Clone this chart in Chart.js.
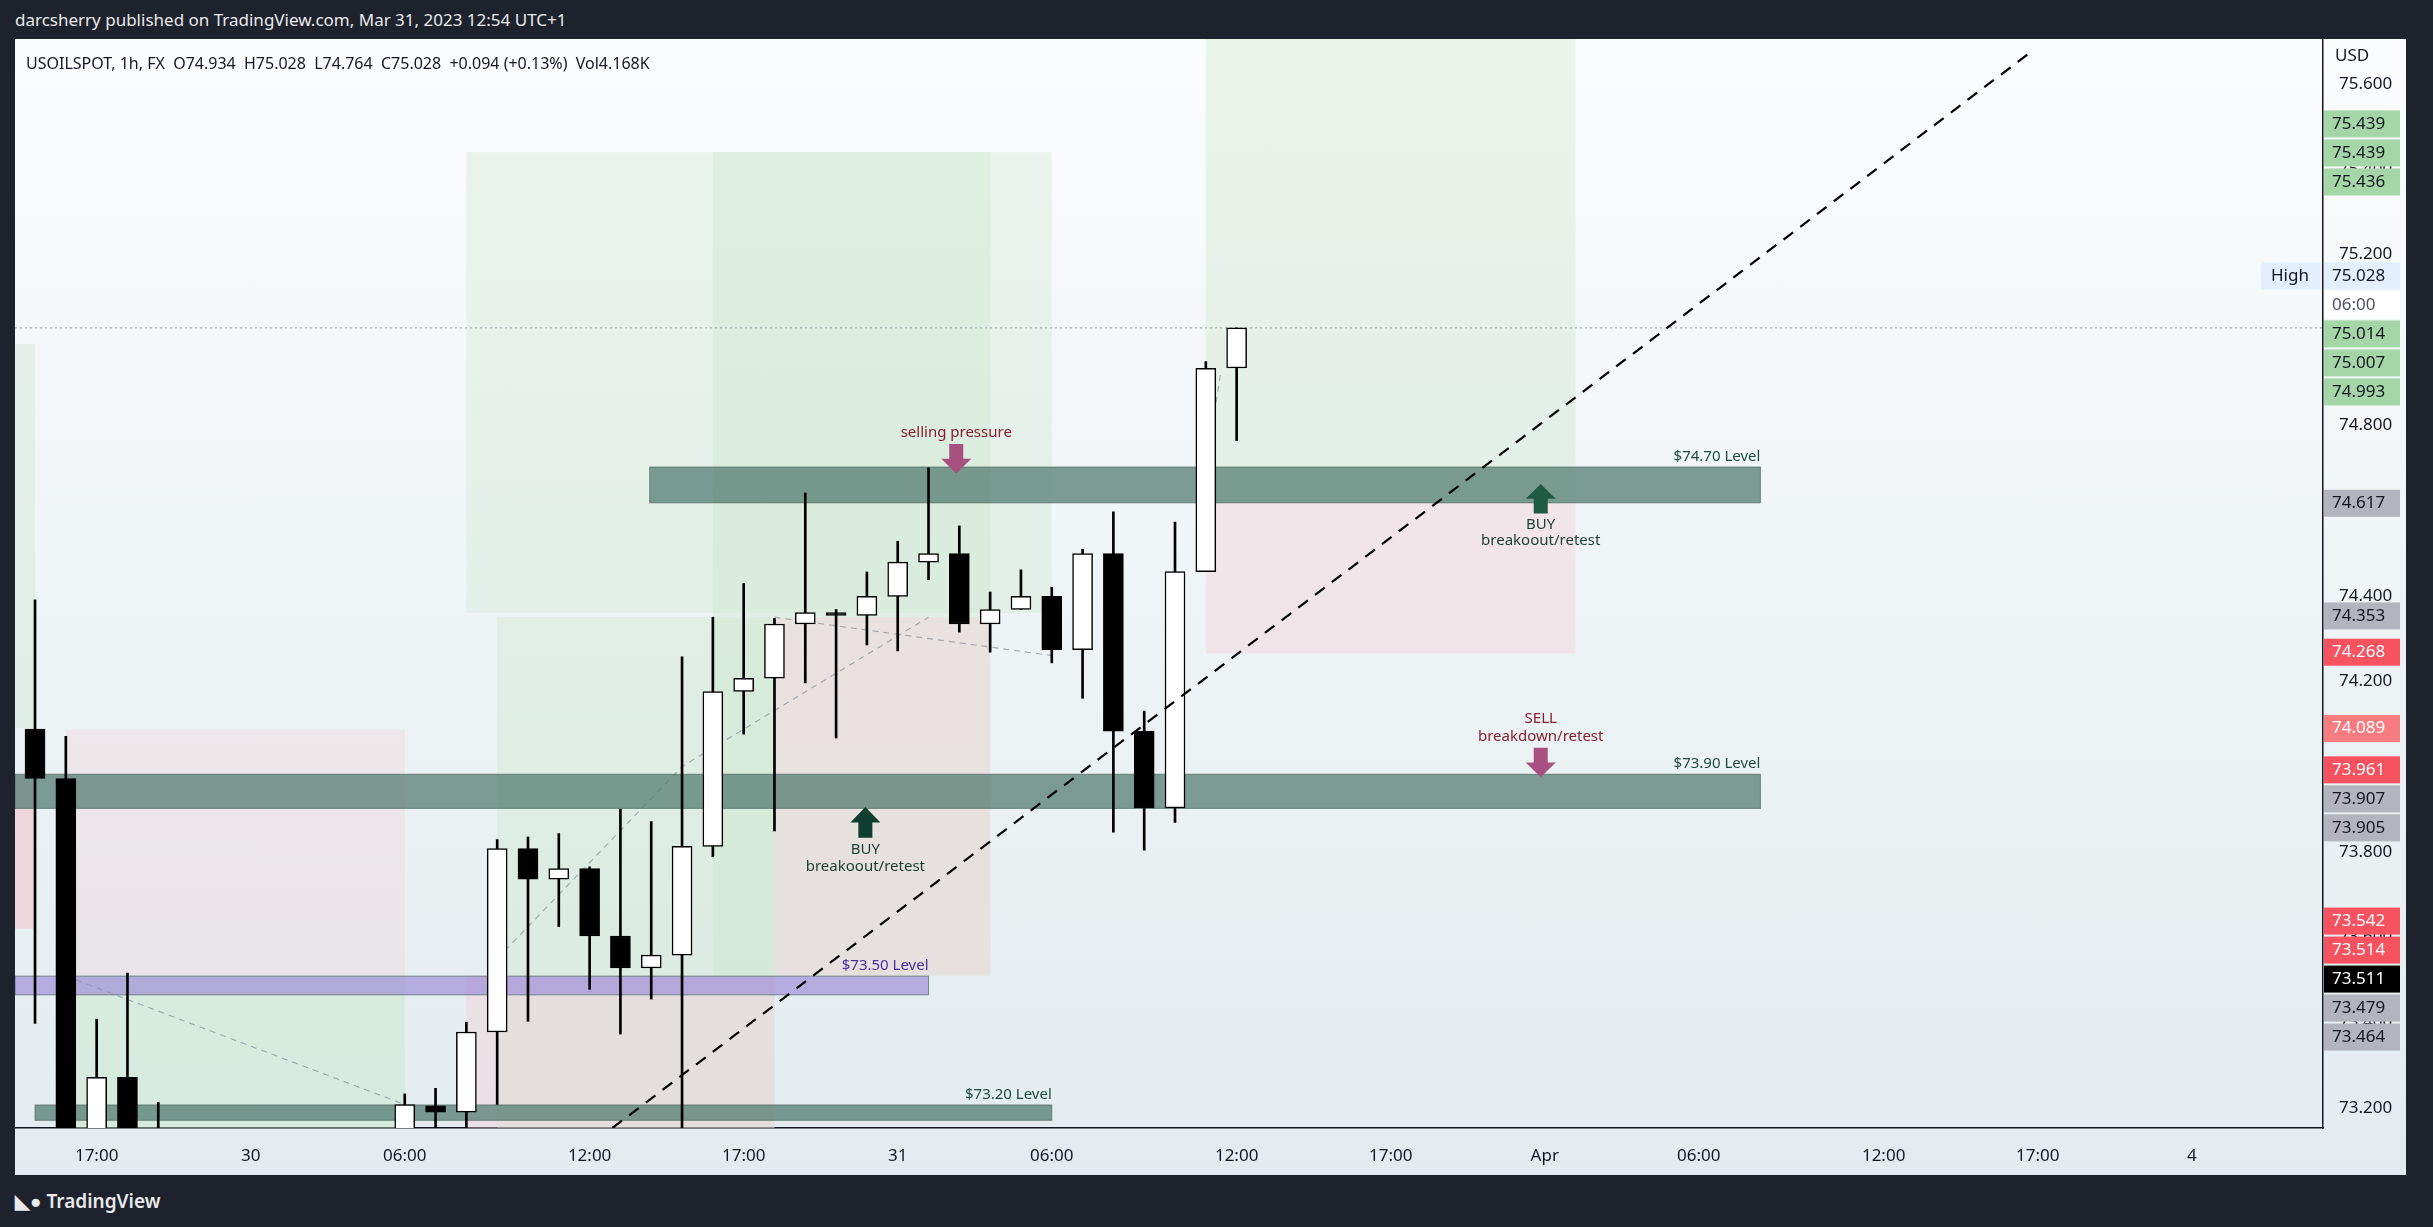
<!DOCTYPE html>
<html>
<head>
<meta charset="utf-8">
<script src="https://cdn.jsdelivr.net/npm/chart.js@4"></script>
<style>
  html, body { margin: 0; padding: 0; background: #1e222d; width: 2433px; height: 1227px; overflow: hidden; font-family: "Noto Sans", sans-serif; }
  #top { position: absolute; left: 15px; top: 8px; color: #e8e9ec; font-size: 17px; }
  #bottom { position: absolute; left: 15px; top: 1188px; color: #e8e9ec; font-size: 19px; font-weight: 600; }
  #wrap { position: absolute; left: 15px; top: 39px; width: 2391px; height: 1136px;
          background: linear-gradient(#fbfcfd, #e2ecef); }
</style>
</head>
<body>
<div id="top">darcsherry published on TradingView.com, Mar 31, 2023 12:54 UTC+1</div>
<div id="bottom">&#x25E3;&#x25CF; TradingView</div>
<div id="wrap"><canvas id="chart"></canvas></div>
<script>
// hourly candles, index 0 = 16:00 Mar 29
const barIndex = [-1,0,1,2,3,4,5,6,7,8,9,10,11,12,13,14,15,16,17,18,19,20,21,22,23,24,25,26,27,28,29,30,31,32,33,34,35,36,37,38,39];
const opens  = [74.192,74.088,73.972,73.05,73.272,73.05,72.98,72.95,72.90,72.97,73.03,73.00,73.06,73.12,73.205,73.190,73.378,73.808,73.736,73.761,73.603,73.528,73.558,73.813,74.176,74.207,74.334,74.361,74.354,74.399,74.479,74.499,74.334,74.368,74.399,74.274,74.499,74.083,73.903,74.457,74.934];
const highs  = [74.25,74.391,74.071,73.408,73.516,73.213,73.05,73.02,73.00,73.08,73.10,73.09,73.14,73.233,73.246,73.401,73.829,73.835,73.843,73.765,73.900,73.871,74.257,74.350,74.429,74.347,74.641,74.368,74.456,74.528,74.700,74.564,74.409,74.461,74.420,74.509,74.597,74.130,74.573,74.949,75.028];
const lows   = [74.0,73.398,72.95,73.00,72.98,72.90,72.88,72.85,72.82,72.90,72.96,72.94,73.00,73.10,73.13,73.14,73.208,73.403,73.625,73.478,73.373,73.455,73.10,73.789,74.076,73.849,74.196,74.067,74.285,74.271,74.438,74.315,74.268,74.368,74.243,74.160,73.846,73.804,73.869,74.457,74.764];
const closes = [74.090,73.972,73.00,73.272,73.05,72.98,72.95,72.90,72.97,73.03,73.00,73.06,73.12,73.208,73.190,73.378,73.808,73.736,73.761,73.603,73.528,73.558,73.813,74.176,74.207,74.334,74.361,74.354,74.399,74.479,74.499,74.334,74.368,74.399,74.274,74.499,74.083,73.903,74.457,74.933,75.028];

const tickIndex = [2,7,12,18,23,28,33,39,44,49,54,60,65,70];
const tickText  = ["17:00","30","06:00","12:00","17:00","31","06:00","12:00","17:00","Apr","06:00","12:00","17:00","4"];

// price tags on the right scale: value, label, background, text colour
const tagValues = [75.439,75.439,75.436,75.028,75.0279,75.014,75.007,74.993,74.617,74.353,74.268,74.089,73.961,73.907,73.905,73.542,73.514,73.511,73.479,73.464];
const tagLabels = ["75.439","75.439","75.436","75.028","06:00","75.014","75.007","74.993","74.617","74.353","74.268","74.089","73.961","73.907","73.905","73.542","73.514","73.511","73.479","73.464"];
const tagBg = ["#a5d6a7","#a5d6a7","#a5d6a7","#e3effd","#ffffff","#a5d6a7","#a5d6a7","#a5d6a7","#b2b5be","#b2b5be","#f7525f","#f77c80","#f7525f","#b2b5be","#b2b5be","#f7525f","#f7525f","#000000","#b2b5be","#b2b5be"];
const tagFg = ["#131722","#131722","#131722","#131722","#50535e","#131722","#131722","#131722","#131722","#131722","#ffffff","#ffffff","#ffffff","#131722","#131722","#ffffff","#ffffff","#ffffff","#131722","#131722"];

// drawing tool boxes: [x0, x1, priceTop, priceBottom, colour]
const boxes = [
  [-0.65, 0, 74.99, 74.09, "rgba(200,230,201,0.35)"],
  [-0.65, 0, 73.98, 73.62, "rgba(242,190,200,0.5)"],
  [1, 12, 74.087, 73.509, "rgba(242,205,212,0.3)"],
  [1, 12, 73.509, 73.153, "rgba(200,230,201,0.45)"],
  [14, 33, 75.44, 74.36, "rgba(200,230,201,0.3)"],
  [22, 31, 75.44, 73.51, "rgba(200,230,201,0.35)"],
  [15, 24, 74.35, 73.153, "rgba(200,230,201,0.35)"],
  [24, 31, 74.35, 73.51, "rgba(242,205,212,0.4)"],
  [14, 24, 73.51, 73.153, "rgba(242,205,212,0.4)"],
  [38, 50, 75.705, 74.618, "rgba(200,230,201,0.35)"],
  [38, 50, 74.618, 74.265, "rgba(242,205,212,0.4)"]
];
const levels = [
  [19.95, 56, 74.702, 74.618, "rgba(84,124,114,0.75)", "$74.70 Level", "#1b4d3e"],
  [-0.65, 56, 73.982, 73.902, "rgba(84,124,114,0.75)", "$73.90 Level", "#1b4d3e"],
  [-0.65, 29, 73.509, 73.465, "rgba(149,128,214,0.6)", "$73.50 Level", "#4a2fa8"],
  [0, 33, 73.207, 73.171, "rgba(84,124,114,0.75)", "$73.20 Level", "#1b4d3e"]
];

const ctx = document.getElementById("chart");

const overlay = {
  id: "overlay",
  beforeDatasetsDraw(chart) {
    const c = chart.ctx, xs = chart.scales.x, ys = chart.scales.y, a = chart.chartArea;
    const X = v => xs.getPixelForValue(v), Y = v => ys.getPixelForValue(v);
    c.save();
    c.beginPath(); c.rect(a.left, a.top, a.right - a.left, a.bottom - a.top); c.clip();
    boxes.forEach(b => { c.fillStyle = b[4]; c.fillRect(X(b[0]), Y(b[2]), X(b[1]) - X(b[0]), Y(b[3]) - Y(b[2])); });
    // thin connecting paths
    c.strokeStyle = "rgba(120,130,140,0.6)"; c.lineWidth = 1.2; c.setLineDash([6, 5]);
    c.beginPath(); c.moveTo(X(1), Y(73.509)); c.lineTo(X(12), Y(73.208)); c.stroke();
    c.beginPath(); c.moveTo(X(15), Y(73.55)); c.lineTo(X(21), Y(74.0)); c.lineTo(X(29), Y(74.35)); c.stroke();
    c.beginPath(); c.moveTo(X(24), Y(74.35)); c.lineTo(X(33), Y(74.26)); c.stroke();
    c.beginPath(); c.moveTo(X(38), Y(74.7)); c.lineTo(X(38.5), Y(74.93)); c.stroke();
    c.setLineDash([]);
    levels.forEach(l => {
      c.fillStyle = l[4]; c.fillRect(X(l[0]), Y(l[2]), X(l[1]) - X(l[0]), Y(l[3]) - Y(l[2]));
      c.strokeStyle = "rgba(60,90,80,0.6)"; c.lineWidth = 1;
      c.strokeRect(X(l[0]), Y(l[2]), X(l[1]) - X(l[0]), Y(l[3]) - Y(l[2]));
      c.fillStyle = l[6]; c.font = "15px 'Noto Sans'"; c.textAlign = "right"; c.textBaseline = "bottom";
      c.fillText(l[5], X(l[1]), Y(l[2]) - 3);
    });
    // High line
    c.strokeStyle = "#9aa0aa"; c.lineWidth = 1; c.setLineDash([2, 3]);
    c.beginPath(); c.moveTo(a.left, Y(75.028)); c.lineTo(a.right, Y(75.028)); c.stroke();
    c.restore();
  },
  afterDatasetsDraw(chart) {
    const c = chart.ctx, xs = chart.scales.x, ys = chart.scales.y, a = chart.chartArea;
    const X = v => xs.getPixelForValue(v), Y = v => ys.getPixelForValue(v);
    c.save();
    c.beginPath(); c.rect(a.left, a.top, a.right - a.left, a.bottom - a.top); c.clip();
    c.strokeStyle = "#000"; c.lineWidth = 2.2; c.setLineDash([12, 9]);
    c.beginPath(); c.moveTo(X(18.74), Y(73.153)); c.lineTo(X(64.8), Y(75.676)); c.stroke();
    c.setLineDash([]);
    const arrow = (xi, p0, p1, up, col) => {
      const x = X(xi), y0 = Y(p0), y1 = Y(p1), h = y1 - y0;
      c.fillStyle = col; c.beginPath();
      if (up) {
        c.moveTo(x, y0); c.lineTo(x + 15, y0 + h * 0.5); c.lineTo(x + 7, y0 + h * 0.5); c.lineTo(x + 7, y1);
        c.lineTo(x - 7, y1); c.lineTo(x - 7, y0 + h * 0.5); c.lineTo(x - 15, y0 + h * 0.5);
      } else {
        c.moveTo(x, y1); c.lineTo(x + 15, y0 + h * 0.5); c.lineTo(x + 7, y0 + h * 0.5); c.lineTo(x + 7, y0);
        c.lineTo(x - 7, y0); c.lineTo(x - 7, y0 + h * 0.5); c.lineTo(x - 15, y0 + h * 0.5);
      }
      c.closePath(); c.fill();
    };
    arrow(29.9, 74.756, 74.687, false, "#a8507f");
    arrow(26.95, 73.905, 73.833, true, "#0f3d30");
    arrow(48.87, 74.662, 74.593, true, "#1f5a45");
    arrow(48.87, 74.044, 73.975, false, "#a8507f");
    c.font = "15px 'Noto Sans'"; c.textAlign = "center"; c.textBaseline = "middle";
    const txt = (s, xi, p, col) => { c.fillStyle = col; c.fillText(s, X(xi), Y(p)); };
    txt("selling pressure", 29.9, 74.782, "#8c1c2e");
    txt("BUY", 26.95, 73.806, "#1b3d33");
    txt("breakoout/retest", 26.95, 73.766, "#1b3d33");
    txt("BUY", 48.87, 74.566, "#1b3d33");
    txt("breakoout/retest", 48.87, 74.529, "#1b3d33");
    txt("SELL", 48.87, 74.111, "#8c1c2e");
    txt("breakdown/retest", 48.87, 74.071, "#8c1c2e");
    c.restore();
    // header
    c.save();
    c.fillStyle = "#131722"; c.font = "16px 'Noto Sans'"; c.textAlign = "left"; c.textBaseline = "middle";
    c.fillText("USOILSPOT, 1h, FX  O74.934  H75.028  L74.764  C75.028  +0.094 (+0.13%)  Vol4.168K", a.left + 11, a.top + 25);
    c.restore();
  },
  afterDraw(chart) {
    const c = chart.ctx, ys = chart.scales.y, a = chart.chartArea;
    const h = 29;
    let items = tagValues.map((v, i) => ({ y: ys.getPixelForValue(v), i }));
    items.sort((p, q) => p.y - q.y);
    // group overlapping tags and centre each group on its mean
    let groups = items.map(t => ({ list: [t], c: t.y }));
    let merged = true;
    while (merged) {
      merged = false;
      for (let k = 0; k < groups.length - 1; k++) {
        const g = groups[k], n = groups[k + 1];
        const gBot = g.c + g.list.length * h / 2, nTop = n.c - n.list.length * h / 2;
        if (gBot > nTop) {
          const list = g.list.concat(n.list);
          const cen = list.reduce((s, t) => s + t.y, 0) / list.length;
          groups.splice(k, 2, { list, c: cen }); merged = true; break;
        }
      }
    }
    c.save();
    c.font = "17px 'Noto Sans'"; c.textBaseline = "middle"; c.textAlign = "left";
    groups.forEach(g => {
      let y = g.c - g.list.length * h / 2;
      if (y < a.top + 22) y = a.top + 22;
      g.list.forEach(t => {
        c.fillStyle = tagBg[t.i]; c.fillRect(a.right + 1, y + 1, 76, h - 2);
        c.fillStyle = tagFg[t.i]; c.fillText(tagLabels[t.i], a.right + 9, y + h / 2);
        if (t.i === 3) {
          c.fillStyle = "#e3effd"; c.fillRect(a.right - 62, y + 1, 60, h - 2);
          c.fillStyle = "#131722"; c.fillText("High", a.right - 52, y + h / 2);
        }
        y += h;
      });
    });
    c.fillStyle = "#131722"; c.fillText("USD", a.right + 12, a.top + 17);
    c.restore();
  }
};

new Chart(ctx, {
  type: "bar",
  data: {
    datasets: [
      {
        label: "wick",
        data: barIndex.map((x, i) => ({ x: x, y: [lows[i], highs[i]] })),
        backgroundColor: "#000",
        barThickness: 2,
        grouped: false,
        order: 2
      },
      {
        label: "body",
        data: barIndex.map((x, i) => ({ x: x, y: [opens[i], closes[i]] })),
        backgroundColor: barIndex.map((x, i) => closes[i] > opens[i] ? "#ffffff" : "#000000"),
        borderColor: "#000",
        borderWidth: 1.5,
        borderSkipped: false,
        barThickness: 20,
        grouped: false,
        order: 1
      }
    ]
  },
  options: {
    responsive: true,
    maintainAspectRatio: false,
    animation: false,
    layout: { padding: 0 },
    plugins: { legend: { display: false }, tooltip: { enabled: false } },
    scales: {
      x: {
        type: "linear",
        min: -0.65,
        max: 74.26,
        offset: false,
        grid: { display: false },
        border: { color: "#131722", width: 1.5 },
        afterBuildTicks: s => { s.ticks = tickIndex.map(v => ({ value: v })); },
        afterFit: s => { s.height = 47; s.paddingLeft = 0; s.paddingRight = 0; },
        ticks: {
          autoSkip: false, maxRotation: 0, color: "#131722", font: { size: 17, family: "Noto Sans" }, padding: 10,
          callback: v => tickText[tickIndex.indexOf(v)]
        }
      },
      y: {
        position: "right",
        min: 73.153,
        max: 75.705,
        grid: { display: false },
        border: { color: "#131722", width: 1.5 },
        afterFit: s => { s.width = 83; s.paddingTop = 0; s.paddingBottom = 0; },
        ticks: {
          stepSize: 0.2, includeBounds: false, color: "#131722", font: { size: 17, family: "Noto Sans" }, padding: 8,
          callback: v => v.toFixed(3)
        }
      }
    }
  },
  plugins: [overlay]
});
</script>
</body>
</html>
